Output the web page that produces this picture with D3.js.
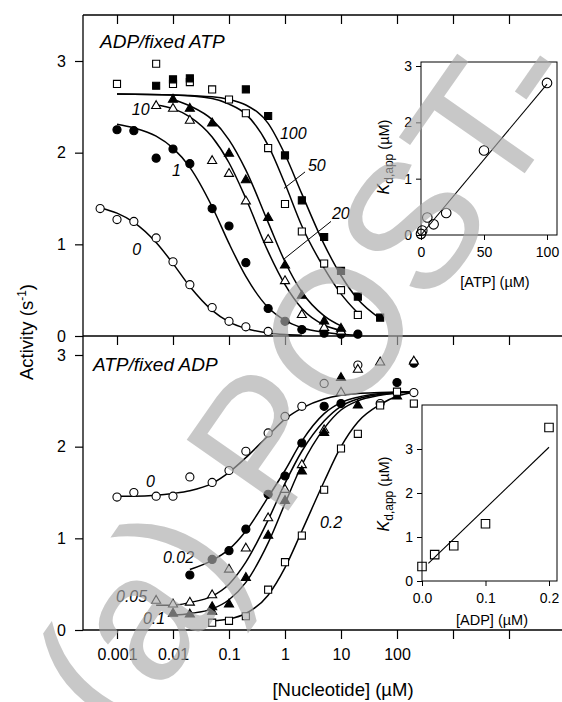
<!DOCTYPE html>
<html>
<head>
<meta charset="utf-8">
<script src="https://cdn.jsdelivr.net/npm/d3@7"></script>
<style>
body { margin: 0; background: #fff; }
svg { display: block; font-family: 'Liberation Sans', Arial, sans-serif; }
</style>
</head>
<body>
<svg id="chart" width="562" height="702"></svg>
<script>
/* global d3 */

// shared nucleotide axis (uM)
const nucleotideTicks = [0.001, 0.01, 0.1, 1, 10, 100, 1000, 10000];
const nucleotideLabels = ['0.001', '0.01', '0.1', '1', '10', '100'];
const activityTicks = [0, 1, 2, 3];

// top panel: ADP varied, ATP fixed. points are [ADP, activity]
const atp0Points = [[0.0005, 1.39], [0.001, 1.27], [0.002, 1.25], [0.005, 1.07], [0.01, 0.81], [0.02, 0.56], [0.05, 0.31], [0.1, 0.16], [0.2, 0.10], [0.5, 0.05]];
const atp0Curve = [[0.0005, 1.40], [0.001, 1.34], [0.002, 1.24], [0.005, 1.02], [0.01, 0.79], [0.02, 0.54], [0.05, 0.28], [0.1, 0.155], [0.2, 0.082], [0.5, 0.034], [1, 0.017], [2, 0.009]];
const atp1Points = [[0.001, 2.25], [0.002, 2.24], [0.005, 1.94], [0.01, 2.04], [0.02, 1.88], [0.05, 1.39], [0.1, 1.20], [0.2, 0.80], [0.5, 0.30], [1, 0.16], [2, 0.07], [5, 0.03], [10, 0.02], [20, 0.02]];
const atp1Curve = [[0.001, 2.31], [0.002, 2.27], [0.005, 2.18], [0.01, 2.05], [0.02, 1.84], [0.05, 1.41], [0.1, 1.01], [0.2, 0.65], [0.5, 0.31], [1, 0.17], [2, 0.09], [5, 0.04], [10, 0.02], [20, 0.01]];
const atp10Points = [[0.005, 2.51], [0.01, 2.48], [0.02, 2.35], [0.05, 1.91], [0.1, 1.77], [0.2, 1.47], [0.5, 1.05], [1, 0.60], [2, 0.23], [5, 0.09], [10, 0.05]];
const atp10Curve = [[0.005, 2.52], [0.01, 2.48], [0.02, 2.39], [0.05, 2.17], [0.1, 1.89], [0.2, 1.50], [0.5, 0.92], [1, 0.56], [2, 0.30], [5, 0.12], [10, 0.06]];
const atp20Points = [[0.01, 2.58], [0.02, 2.48], [0.05, 2.32], [0.1, 1.99], [0.2, 1.70], [0.5, 1.29], [1, 0.77], [2, 0.44], [5, 0.16], [10, 0.08]];
const atp20Curve = [[0.01, 2.58], [0.02, 2.51], [0.05, 2.36], [0.1, 2.14], [0.2, 1.81], [0.5, 1.24], [1, 0.81], [2, 0.48], [5, 0.22], [10, 0.11]];
const atp50Points = [[0.001, 2.75], [0.005, 2.97], [0.01, 2.75], [0.02, 2.77], [0.05, 2.69], [0.1, 2.58], [0.2, 2.43], [0.5, 2.05], [1, 1.44], [2, 1.14], [5, 0.79], [10, 0.50], [20, 0.23]];
const atp50Curve = [[0.001, 2.64], [0.01, 2.63], [0.05, 2.59], [0.1, 2.53], [0.2, 2.42], [0.5, 2.08], [1, 1.66], [2, 1.20], [5, 0.74], [10, 0.46], [20, 0.25]];
const atp100Points = [[0.005, 2.73], [0.01, 2.80], [0.02, 2.81], [0.2, 2.69], [0.5, 2.40], [1, 1.97], [2, 1.48], [5, 1.08], [10, 0.71], [20, 0.43], [50, 0.20]];
const atp100Curve = [[0.001, 2.64], [0.01, 2.63], [0.05, 2.61], [0.1, 2.58], [0.2, 2.52], [0.5, 2.32], [1, 1.98], [2, 1.55], [5, 1.00], [10, 0.66], [20, 0.40], [50, 0.19]];

// bottom panel: ATP varied, ADP fixed. points are [ATP, activity]
const adp0Points = [[0.001, 1.45], [0.002, 1.50], [0.005, 1.46], [0.01, 1.46], [0.02, 1.67], [0.05, 1.61], [0.1, 1.74], [0.2, 1.95], [0.5, 2.15], [1, 2.33], [2, 2.44], [5, 2.69], [20, 2.89], [50, 2.47], [200, 2.59]];
const adp0Curve = [[0.001, 1.46], [0.002, 1.46], [0.005, 1.47], [0.01, 1.49], [0.02, 1.52], [0.05, 1.60], [0.1, 1.72], [0.2, 1.88], [0.5, 2.12], [1, 2.30], [2, 2.42], [5, 2.52], [10, 2.56], [20, 2.58], [50, 2.59], [200, 2.60]];
const adp002Points = [[0.02, 0.60], [0.05, 0.77], [0.1, 0.865], [0.2, 1.10], [0.5, 1.48], [1, 1.68], [2, 2.04], [5, 2.44], [10, 2.47], [100, 2.70], [200, 2.91]];
const adp002Curve = [[0.02, 0.66], [0.05, 0.76], [0.1, 0.88], [0.2, 1.08], [0.5, 1.45], [1, 1.74], [2, 2.06], [5, 2.36], [10, 2.48], [20, 2.54], [50, 2.58], [200, 2.60]];
const adp005Points = [[0.005, 0.32], [0.01, 0.28], [0.02, 0.30], [0.05, 0.38], [0.1, 0.66], [0.2, 0.89], [0.5, 1.22], [1, 1.53], [2, 1.80], [5, 2.18], [10, 2.59], [20, 2.84], [50, 2.92], [200, 2.93]];
const adp005Curve = [[0.005, 0.27], [0.01, 0.27], [0.02, 0.30], [0.05, 0.37], [0.1, 0.50], [0.2, 0.74], [0.5, 1.20], [1, 1.60], [2, 1.95], [5, 2.28], [10, 2.44], [20, 2.52], [50, 2.57], [200, 2.60]];
const adp01Points = [[0.01, 0.18], [0.02, 0.17], [0.05, 0.25], [0.05, 0.20], [0.1, 0.28], [0.2, 0.57], [0.5, 1.03], [1, 1.41], [2, 1.73], [5, 2.15], [10, 2.75], [20, 2.45], [100, 2.55]];
const adp01Curve = [[0.01, 0.16], [0.02, 0.18], [0.05, 0.23], [0.1, 0.33], [0.2, 0.52], [0.5, 0.95], [1, 1.38], [2, 1.80], [5, 2.20], [10, 2.40], [20, 2.50], [50, 2.56], [200, 2.60]];
const adp02Points = [[0.05, 0.08], [0.1, 0.10], [0.2, 0.15], [0.5, 0.44], [1, 0.74], [2, 1.03], [5, 1.53], [10, 1.98], [20, 2.14], [50, 2.45], [100, 2.60], [200, 2.47]];
const adp02Curve = [[0.05, 0.10], [0.1, 0.12], [0.2, 0.18], [0.5, 0.38], [1, 0.68], [2, 1.08], [5, 1.62], [10, 2.00], [20, 2.27], [50, 2.46], [100, 2.55], [200, 2.59]];

// curve labels [text, x, activity] and leader lines
const topLabels = [['0', 0.00187, 0.88], ['1', 0.0096, 1.745], ['10', 0.00184, 2.41], ['20', 6.9, 1.28], ['50', 2.57, 1.80], ['100', 0.81, 2.15]];
const topLeaders = [[[2.28, 1.79], [0.96, 1.61]], [[6.63, 1.25], [0.96, 0.84]]];
const bottomLabels = [['0', 0.0033, 1.56], ['0.02', 0.0066, 0.73], ['0.05', 0.00096, 0.305], ['0.1', 0.0029, 0.065], ['0.2', 4.2, 1.11]];

// insets: apparent Kd vs fixed nucleotide
const atpInsetX = [0, 1, 5, 10, 20, 50, 100];
const atpInsetKd = [0.02, 0.08, 0.31, 0.19, 0.39, 1.50, 2.70];
const atpInsetFit = [[0, 0.0], [100, 2.68]];
const adpInsetX = [0, 0.02, 0.05, 0.1, 0.2];
const adpInsetKd = [0.33, 0.60, 0.80, 1.30, 3.49];
const adpInsetFit = [[0.01, 0.40], [0.2, 3.04]];

const topSeries = [
	{marker: 'circle', filled: false, points: atp0Points, curve: atp0Curve},
	{marker: 'circle', filled: true, points: atp1Points, curve: atp1Curve},
	{marker: 'triangle', filled: false, points: atp10Points, curve: atp10Curve},
	{marker: 'triangle', filled: true, points: atp20Points, curve: atp20Curve},
	{marker: 'square', filled: false, points: atp50Points, curve: atp50Curve},
	{marker: 'square', filled: true, points: atp100Points, curve: atp100Curve}
];
const bottomSeries = [
	{marker: 'circle', filled: false, points: adp0Points, curve: adp0Curve},
	{marker: 'circle', filled: true, points: adp002Points, curve: adp002Curve},
	{marker: 'triangle', filled: false, points: adp005Points, curve: adp005Curve},
	{marker: 'triangle', filled: true, points: adp01Points, curve: adp01Curve},
	{marker: 'square', filled: false, points: adp02Points, curve: adp02Curve}
];

const svg = d3.select('#chart'),
	plotLeft = 83,
	plotRight = 562,
	topY0 = 15,
	midY = 336,
	bottomY = 630,
	font = "'Liberation Sans', Arial, sans-serif";

const x = d3.scaleLog().domain([0.001, 100]).range([117, 397]),
	yTop = d3.scaleLinear().domain([0, 3]).range([336, 61]),
	yBottom = d3.scaleLinear().domain([0, 3]).range([630, 355]);

const symbols = {circle: d3.symbolCircle, triangle: d3.symbolTriangle, square: d3.symbolSquare},
	symbolSizes = {circle: 52, triangle: 36, square: 50};

function styleAxis(g, size) {
	g.select('.domain').remove();
	g.selectAll('line').attr('stroke', '#000').attr('stroke-width', 1.2);
	g.selectAll('text').attr('font-family', font).attr('font-size', size).attr('fill', '#000');
}

function drawSeries(g, series, y) {
	var line = d3.line()
		.x(function(d) { return x(d[0]); })
		.y(function(d) { return y(d[1]); })
		.curve(d3.curveMonotoneX);

	g.selectAll('path.fit')
		.data(series)
		.enter().append('path')
			.attr('class', 'fit')
			.attr('fill', 'none')
			.attr('stroke', '#000')
			.attr('stroke-width', 1.5)
			.attr('d', function(d) { return line(d.curve); });

	series.forEach(function(s) {
		g.append('g').selectAll('path')
			.data(s.points)
			.enter().append('path')
				.attr('transform', function(d) { return 'translate(' + x(d[0]) + ',' + y(d[1]) + ')'; })
				.attr('d', d3.symbol().type(symbols[s.marker]).size(symbolSizes[s.marker]))
				.attr('fill', s.filled ? '#000' : '#fff')
				.attr('stroke', '#000')
				.attr('stroke-width', 1.1);
	});
}

function drawLabels(g, labels, y) {
	g.selectAll('text.curve-label')
		.data(labels)
		.enter().append('text')
			.attr('class', 'curve-label')
			.attr('x', function(d) { return x(d[1]); })
			.attr('y', function(d) { return y(d[2]); })
			.attr('font-size', 16)
			.attr('font-style', 'italic')
			.text(function(d) { return d[0]; });
}

// frame: left, top, middle and bottom lines (panel runs off the right edge)
svg.append('g')
	.attr('stroke', '#000')
	.attr('stroke-width', 1.3)
	.selectAll('line')
	.data([[plotLeft, topY0, plotLeft, bottomY], [plotLeft, topY0, plotRight, topY0], [plotLeft, midY, plotRight, midY], [plotLeft, bottomY, plotRight, bottomY]])
	.enter().append('line')
		.attr('x1', function(d) { return d[0]; })
		.attr('y1', function(d) { return d[1]; })
		.attr('x2', function(d) { return d[2]; })
		.attr('y2', function(d) { return d[3]; });

// x ticks on the top border and the middle border, labels on the bottom
[topY0, midY].forEach(function(yy) {
	svg.append('g')
		.attr('transform', 'translate(0,' + yy + ')')
		.call(d3.axisBottom(x).tickValues(nucleotideTicks).tickSize(9).tickFormat(''))
		.call(styleAxis, 15);
});

svg.append('g')
	.attr('transform', 'translate(0,' + bottomY + ')')
	.call(d3.axisBottom(x).tickValues(nucleotideTicks).tickSize(9).tickPadding(10)
		.tickFormat(function(d, i) { return nucleotideLabels[i] || ''; }))
	.call(styleAxis, 16);

svg.append('g')
	.attr('transform', 'translate(' + plotLeft + ',0)')
	.call(d3.axisLeft(yTop).tickValues(activityTicks).tickSize(8).tickPadding(9).tickFormat(d3.format('d')))
	.call(styleAxis, 16);

svg.append('g')
	.attr('transform', 'translate(' + plotLeft + ',0)')
	.call(d3.axisLeft(yBottom).tickValues(activityTicks).tickSize(8).tickPadding(9).tickFormat(d3.format('d')))
	.call(styleAxis, 16);

// panel contents
const topG = svg.append('g');
drawSeries(topG, topSeries, yTop);
drawLabels(topG, topLabels, yTop);
topG.append('g').selectAll('line')
	.data(topLeaders)
	.enter().append('line')
		.attr('stroke', '#000')
		.attr('stroke-width', 1)
		.attr('x1', function(d) { return x(d[0][0]); })
		.attr('y1', function(d) { return yTop(d[0][1]); })
		.attr('x2', function(d) { return x(d[1][0]); })
		.attr('y2', function(d) { return yTop(d[1][1]); });

const bottomG = svg.append('g');
drawSeries(bottomG, bottomSeries, yBottom);
drawLabels(bottomG, bottomLabels, yBottom);

svg.append('text').attr('x', 100).attr('y', 48)
	.attr('font-size', 19).attr('font-style', 'italic').text('ADP/fixed ATP');
svg.append('text').attr('x', 93).attr('y', 371)
	.attr('font-size', 19).attr('font-style', 'italic').text('ATP/fixed ADP');

// axis titles
const yTitle = svg.append('text')
	.attr('transform', 'translate(33,332) rotate(-90)')
	.attr('text-anchor', 'middle')
	.attr('font-size', 18.5);
yTitle.append('tspan').text('Activity (s');
yTitle.append('tspan').attr('font-size', 12).attr('dy', -7).text('-1');
yTitle.append('tspan').attr('dy', 7).text(')');

svg.append('text')
	.attr('x', 343).attr('y', 696)
	.attr('text-anchor', 'middle')
	.attr('font-size', 18.5)
	.text('[Nucleotide] (\u00b5M)');

// inset plot helper
function drawInset(opts) {
	var g = svg.append('g'),
		ix = opts.x,
		iy = opts.y,
		pts = d3.zip(opts.xs, opts.ys),
		title;

	g.append('rect')
		.attr('x', opts.box[0]).attr('y', opts.box[1])
		.attr('width', opts.box[2] - opts.box[0]).attr('height', opts.box[3] - opts.box[1])
		.attr('fill', '#fff').attr('stroke', '#000').attr('stroke-width', 1);

	g.append('g')
		.attr('transform', 'translate(' + opts.box[0] + ',0)')
		.call(d3.axisLeft(iy).tickValues(opts.yTicks).tickSize(5).tickPadding(4).tickFormat(d3.format('d')))
		.call(styleAxis, 14);

	g.append('g')
		.attr('transform', 'translate(0,' + opts.box[3] + ')')
		.call(d3.axisBottom(ix).tickValues(opts.xTicks).tickSize(5).tickPadding(7).tickFormat(opts.xFormat))
		.call(styleAxis, 14);

	g.selectAll('line').attr('stroke-width', 1);

	g.append('path')
		.attr('fill', 'none').attr('stroke', '#000').attr('stroke-width', 1.1)
		.attr('d', d3.line().x(function(d) { return ix(d[0]); }).y(function(d) { return iy(d[1]); })(opts.fit));

	g.append('g').selectAll('path')
		.data(pts)
		.enter().append('path')
			.attr('transform', function(d) { return 'translate(' + ix(d[0]) + ',' + iy(d[1]) + ')'; })
			.attr('d', d3.symbol().type(opts.symbol).size(opts.size))
			.attr('fill', 'none').attr('stroke', '#000').attr('stroke-width', 1.1);

	g.append('text')
		.attr('x', opts.xTitle[0]).attr('y', opts.xTitle[1])
		.attr('text-anchor', 'middle').attr('font-size', 14.5)
		.text(opts.xLabel);

	title = g.append('text')
		.attr('transform', 'translate(' + opts.yTitle[0] + ',' + opts.yTitle[1] + ') rotate(-90)')
		.attr('text-anchor', 'middle').attr('font-size', 14.5);
	title.append('tspan').attr('font-style', 'italic').attr('font-size', 16).text('K');
	title.append('tspan').attr('font-size', 12).attr('dy', 4).text('d,app');
	title.append('tspan').attr('dy', -4).text(' (\u00b5M)');
}

drawInset({
	box: [421, 62, 557, 235],
	x: d3.scaleLinear().domain([0, 100]).range([421, 547]),
	y: d3.scaleLinear().domain([0, 3]).range([235, 66]),
	xs: atpInsetX, ys: atpInsetKd, fit: atpInsetFit,
	xTicks: [0, 50, 100], yTicks: [0, 1, 2, 3], xFormat: d3.format('d'),
	symbol: d3.symbolCircle, size: 72,
	xLabel: '[ATP] (\u00b5M)', xTitle: [495, 287], yTitle: [389, 157]
});

drawInset({
	box: [422, 405, 557, 581],
	x: d3.scaleLinear().domain([0, 0.2]).range([422, 549]),
	y: d3.scaleLinear().domain([0, 3]).range([581, 449]),
	xs: adpInsetX, ys: adpInsetKd, fit: adpInsetFit,
	xTicks: [0, 0.1, 0.2], yTicks: [0, 1, 2, 3], xFormat: d3.format('.1f'),
	symbol: d3.symbolSquare, size: 72,
	xLabel: '[ADP] (\u00b5M)', xTitle: [492, 625], yTitle: [389, 494]
});

// diagonal watermark laid over the figure
svg.append('text')
	.attr('transform', 'translate(125,744) rotate(-55)')
	.attr('font-size', 180)
	.attr('fill', '#aaa')
	.attr('fill-opacity', 0.65)
	.text('(a) POST-');
</script>
</body>
</html>
